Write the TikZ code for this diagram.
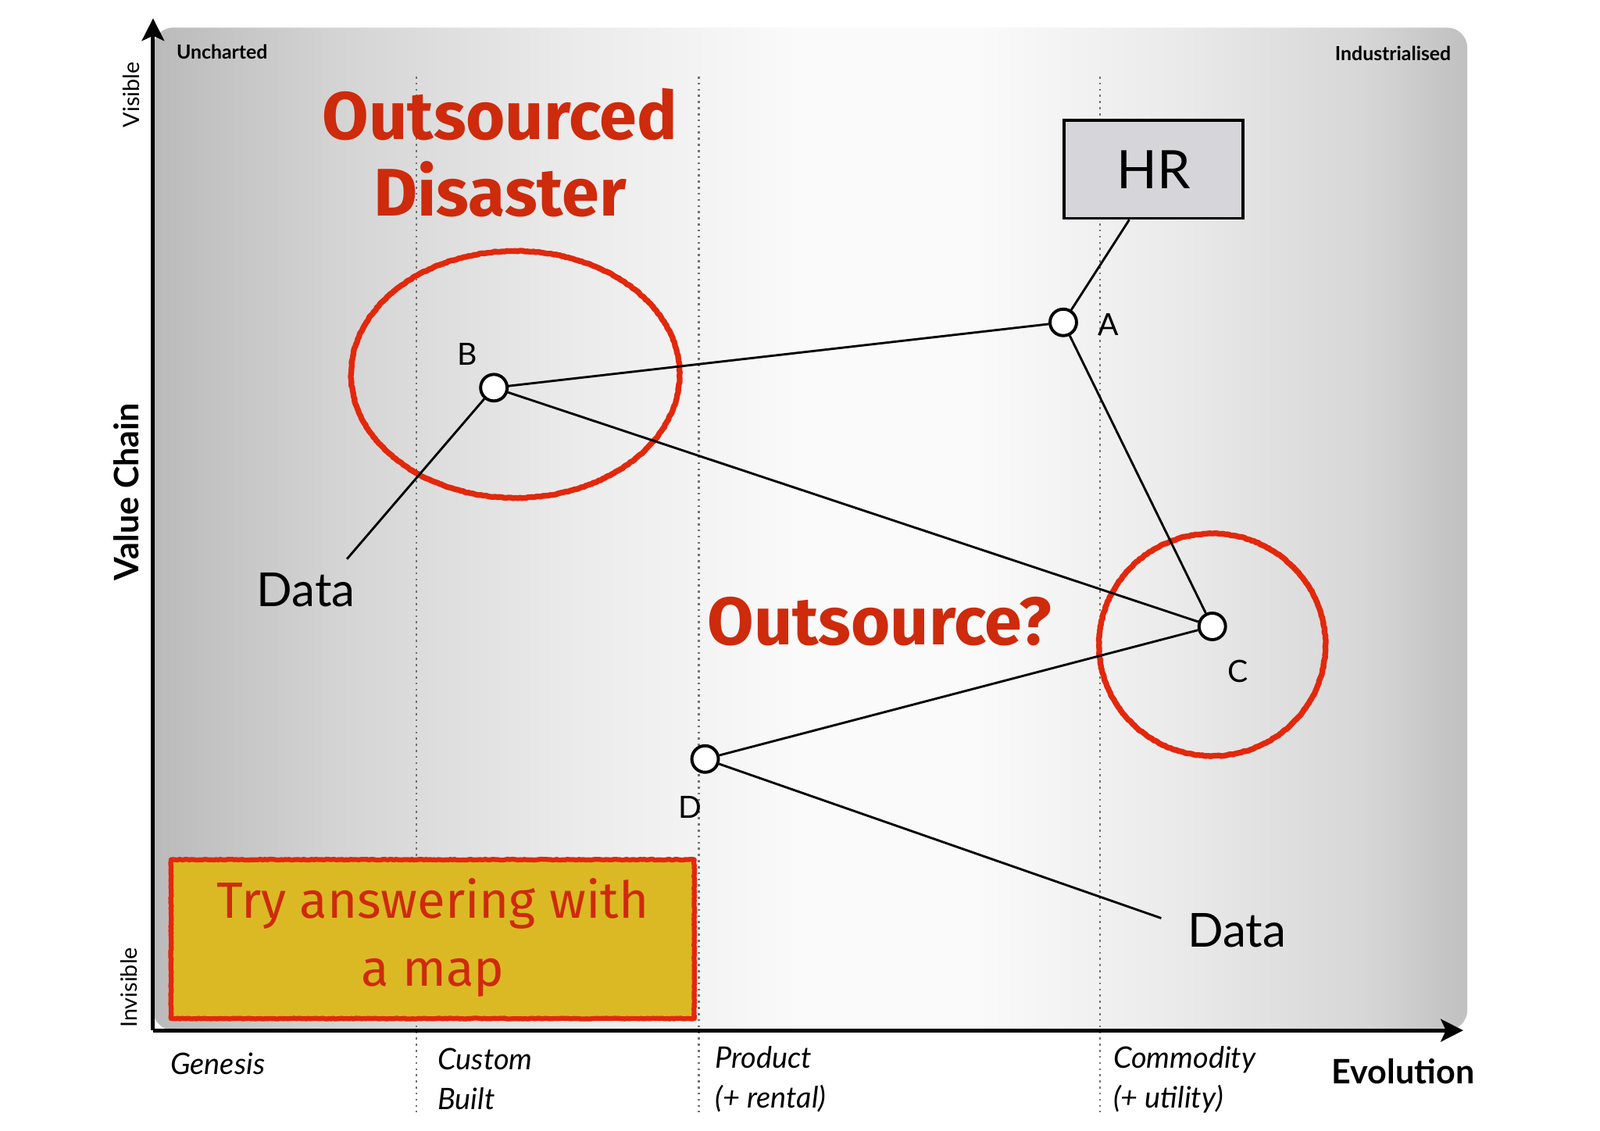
\documentclass[tikz,border=0pt]{standalone}
\usepackage{fontspec}
\setmainfont{Lato}
\newfontfamily\comic{Fira Sans}
\usetikzlibrary{arrows.meta,calc,decorations.pathmorphing}
\definecolor{redtxt}{RGB}{206,42,12}
\definecolor{redring}{RGB}{226,40,12}
\definecolor{yellowbox}{RGB}{219,185,36}
\definecolor{hrfill}{RGB}{214,213,217}
\tikzset{
  axisline/.style={line width=1.9pt,-{Stealth[length=11pt,width=11pt,inset=2.5pt]}},
  guide/.style={black!55,line width=1pt,dash pattern=on 1pt off 2pt},
  conn/.style={line width=1.1pt,black},
  comp/.style={circle,draw,fill=white,line width=1.5pt,minimum size=13pt,inner sep=0pt},
  complabel/.style={font=\fontsize{15}{18}\selectfont},
  stagelabel/.style={font=\fontsize{14.5}{19.5}\selectfont\itshape,align=left,anchor=west},
  rough/.style={draw=redring,line width=2.8pt,line join=round,decorate,
    decoration={random steps,segment length=1pt,amplitude=0.2pt}},
  redbig/.style={text=redtxt,font=\comic\bfseries\fontsize{33}{37.5}\selectfont,align=center},
}
\begin{document}
\begin{tikzpicture}[x=0.5pt,y=-0.5pt]
\useasboundingbox (0,0) rectangle (1568,1108);
% background gradient
\begin{scope}
\clip[rounded corners=10pt] (150,1010) -- (150,27) -- (1438,27) -- (1438,1010) -- cycle;
\shade[left color=black!27,right color=black!17] (149,20) rectangle (330,1015);
\shade[left color=black!17,right color=black!8] (330,20) rectangle (560,1015);
\shade[left color=black!8,right color=black!2] (560,20) rectangle (780,1015);
\shade[left color=black!2,right color=black!2] (780,20) rectangle (960,1015);
\shade[left color=black!2,right color=black!8] (960,20) rectangle (1150,1015);
\shade[left color=black!8,right color=black!16] (1150,20) rectangle (1340,1015);
\shade[left color=black!16,right color=black!25] (1340,20) rectangle (1440,1015);
\end{scope}
% guides
\draw[guide] (408,75) -- (408,1090);
\draw[guide] (685,75) -- (685,1090);
\draw[guide] (1078,75) -- (1078,1090);
% axes
\coordinate (origin) at (150,1010);
\coordinate (ytop) at (150,18);
\coordinate (xend) at (1434,1010);
\draw[axisline] (origin) -- (ytop);
\draw[axisline] (origin) -- (xend);
% axis texts
\node[font=\bfseries\fontsize{9.5}{11}\selectfont,anchor=west] (unch) at (166,51) {Uncharted};
\node[font=\bfseries\fontsize{9.5}{11}\selectfont,anchor=east] (ind) at (1429,52) {Industrialised};
\node[font=\fontsize{11}{13}\selectfont,rotate=90] (vis) at (129,93) {Visible};
\node[font=\fontsize{11}{13}\selectfont,rotate=90] (invis) at (126,968) {Invisible};
\node[font=\bfseries\fontsize{16.5}{19}\selectfont,rotate=90] (vc) at (124,482) {Value Chain};
\node[stagelabel] (gen) at (160,1043) {Genesis};
\node[stagelabel] (cust) at (422,1058) {Custom\\Built};
\node[stagelabel] (prod) at (694,1058) {Product\\(+ rental)};
\node[stagelabel] (comm) at (1084,1058) {Commodity\\(+ utility)};
\node[font=\bfseries\fontsize{16.5}{19}\selectfont,anchor=west] (evo) at (1298,1050) {Evolution};
% red rings
\draw[rough] (505,367) ellipse [x radius=161, y radius=121];
\draw[rough] (1188,632) ellipse [x radius=111, y radius=109];
% components
\node[comp] (A) at (1042,316) {};
\node[comp] (B) at (484,380) {};
\node[comp] (C) at (1188,614) {};
\node[comp] (D) at (691,744) {};
\node[complabel] (lA) at (1086,318) {A};
\node[complabel] (lB) at (458,347) {B};
\node[complabel] (lC) at (1213,658) {C};
\node[complabel] (lD) at (676,791) {D};
\node[draw,fill=hrfill,line width=1.4pt,minimum width=87.5pt,minimum height=48pt,
  font=\fontsize{26}{30}\selectfont] (HR) at (1130.5,166) {HR};
\node[font=\fontsize{23}{27}\selectfont] (dataL) at (300,578) {Data};
\node[font=\fontsize{23}{27}\selectfont] (dataR) at (1212,912) {Data};
\coordinate (hrfoot) at ($(HR.south west)!0.366!(HR.south east)$);
\coordinate (dlend) at (340,548);
\coordinate (drend) at (1138,900);
% connectors
\draw[conn] (hrfoot) -- (A);
\draw[conn] (B) -- (A);
\draw[conn] (B) -- (C);
\draw[conn] (A) -- (C);
\draw[conn] (C) -- (D);
\draw[conn] (B) -- (dlend);
\draw[conn] (D) -- (drend);
% red texts
\node[redbig] (disaster) at (490,150) {Outsourced\\Disaster};
\node[redbig] (outq) at (862,609) {Outsource?};
% yellow box
\node[fill=yellowbox,minimum width=256pt,minimum height=77.5pt,inner sep=0pt] (tryb) at (424,920.5) {};
\draw[rough,line width=2.4pt] (tryb.south west) rectangle (tryb.north east);
\node[text=redtxt,font=\comic\fontsize{25}{33.5}\selectfont,align=center] (trytxt) at (424,919) {Try answering with\\a map};
\end{tikzpicture}
\end{document}
